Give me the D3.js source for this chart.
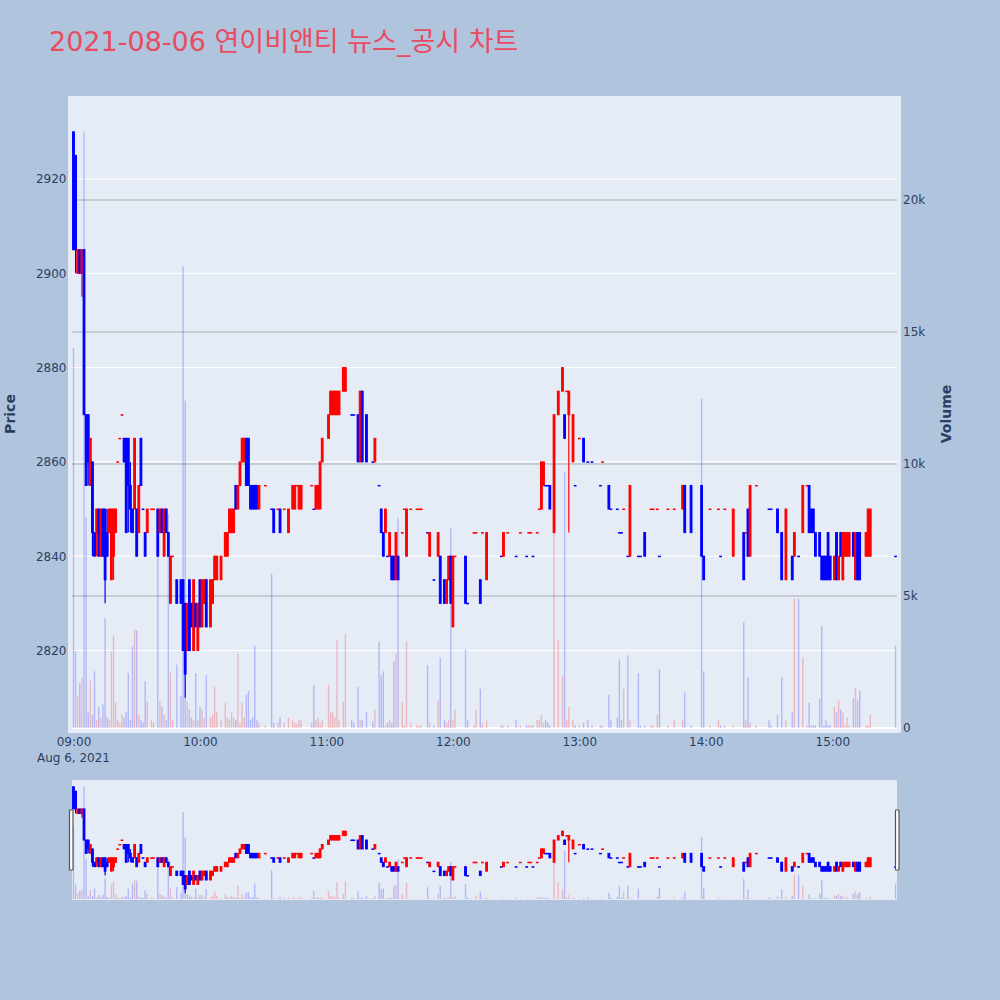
<!DOCTYPE html>
<html><head><meta charset="utf-8">
<script src="https://cdn.jsdelivr.net/npm/d3@7"></script>
<style>body{margin:0;background:#b0c4de}</style>
</head><body><svg id="c" width="1000" height="1000"></svg>
<script>
const times=["09:00","09:01","09:02","09:03","09:04","09:05","09:06","09:07","09:08","09:09",
"09:10","09:11","09:12","09:13","09:14","09:15","09:16","09:17","09:18","09:19",
"09:20","09:21","09:22","09:23","09:24","09:25","09:26","09:27","09:28","09:29",
"09:30","09:31","09:32","09:33","09:34","09:35","09:37","09:38","09:40","09:41",
"09:42","09:43","09:44","09:45","09:46","09:47","09:49","09:51","09:52","09:53",
"09:54","09:55","09:56","09:57","09:58","09:59","10:00","10:01","10:02","10:03",
"10:05","10:06","10:07","10:08","10:10","10:12","10:13","10:14","10:15","10:16",
"10:17","10:18","10:19","10:20","10:21","10:22","10:23","10:24","10:25","10:26",
"10:27","10:28","10:31","10:34","10:35","10:37","10:38","10:40","10:42","10:44",
"10:45","10:46","10:47","10:48","10:53","10:54","10:55","10:56","10:57","10:58",
"11:01","11:02","11:03","11:04","11:05","11:06","11:08","11:09","11:12","11:13",
"11:15","11:16","11:17","11:19","11:22","11:23","11:25","11:26","11:27","11:28",
"11:29","11:30","11:31","11:32","11:33","11:34","11:36","11:37","11:38","11:40",
"11:43","11:44","11:45","11:48","11:49","11:51","11:53","11:54","11:56","11:57",
"11:58","11:59","12:00","12:01","12:06","12:07","12:10","12:11","12:13","12:14",
"12:16","12:23","12:24","12:26","12:30","12:32","12:35","12:36","12:37","12:38",
"12:40","12:41","12:42","12:43","12:44","12:45","12:46","12:48","12:50","12:52",
"12:53","12:54","12:55","12:57","12:58","13:00","13:02","13:04","13:06","13:10",
"13:11","13:14","13:15","13:18","13:19","13:20","13:21","13:23","13:24","13:28",
"13:29","13:31","13:34","13:35","13:37","13:38","13:42","13:45","13:49","13:50",
"13:53","13:58","13:59","14:02","14:06","14:07","14:09","14:13","14:18","14:19",
"14:20","14:21","14:24","14:30","14:31","14:34","14:36","14:38","14:41","14:42",
"14:44","14:46","14:48","14:49","14:50","14:51","14:52","14:54","14:55","14:56",
"14:57","14:58","14:59","15:01","15:02","15:03","15:04","15:05","15:06","15:07",
"15:08","15:10","15:11","15:12","15:13","15:16","15:17","15:18","15:30"];

const open=[2930,2925,2900,2905,2900,2905,2870,2870,2855,2860,
2845,2845,2850,2840,2850,2850,2845,2845,2835,2840,
2845,2860,2865,2870,2865,2865,2865,2855,2850,2850,
2850,2845,2865,2850,2845,2845,2850,2850,2850,2845,
2850,2840,2850,2845,2830,2840,2835,2835,2835,2830,
2820,2835,2830,2820,2830,2820,2835,2825,2830,2835,
2825,2830,2835,2835,2835,2840,2840,2845,2845,2845,
2855,2850,2855,2860,2860,2865,2865,2855,2855,2855,
2855,2850,2855,2850,2850,2850,2850,2850,2845,2850,
2850,2855,2850,2850,2855,2850,2850,2850,2850,2860,
2865,2870,2870,2870,2870,2870,2875,2875,2870,2870,
2870,2860,2875,2870,2860,2860,2855,2850,2845,2845,
2840,2840,2840,2840,2835,2840,2845,2850,2840,2850,
2850,2850,2850,2845,2840,2835,2840,2840,2835,2830,
2835,2840,2825,2840,2840,2830,2845,2845,2835,2845,
2835,2840,2840,2845,2840,2845,2840,2845,2845,2840,
2845,2850,2850,2855,2855,2855,2855,2845,2870,2875,
2870,2875,2870,2860,2855,2865,2865,2860,2860,2855,
2860,2855,2850,2850,2845,2845,2850,2840,2840,2840,
2840,2845,2850,2850,2850,2840,2850,2850,2850,2855,
2855,2855,2840,2850,2850,2840,2850,2840,2845,2845,
2850,2840,2855,2850,2850,2850,2845,2835,2840,2840,
2840,2845,2855,2855,2850,2850,2845,2845,2840,2840,
2840,2845,2840,2835,2845,2835,2845,2835,2840,2840,
2840,2845,2835,2845,2845,2840,2840,2840,2840];

const high=[2930,2925,2905,2905,2905,2905,2870,2870,2865,2860,
2845,2850,2850,2850,2850,2850,2850,2850,2850,2850,
2850,2860,2865,2870,2865,2865,2865,2860,2850,2865,
2850,2855,2865,2850,2845,2850,2850,2850,2850,2850,
2850,2850,2850,2845,2840,2840,2835,2835,2835,2830,
2830,2835,2830,2835,2830,2830,2835,2835,2835,2835,
2835,2835,2840,2840,2840,2845,2845,2850,2850,2850,
2855,2855,2860,2865,2865,2865,2865,2855,2855,2855,
2855,2855,2855,2850,2850,2850,2850,2850,2850,2855,
2855,2855,2855,2855,2855,2850,2855,2855,2860,2865,
2870,2875,2875,2875,2875,2875,2880,2880,2870,2870,
2870,2875,2875,2870,2860,2865,2855,2850,2845,2850,
2840,2845,2840,2840,2845,2840,2845,2850,2850,2850,
2850,2850,2850,2845,2845,2835,2845,2840,2835,2835,
2840,2840,2840,2840,2840,2830,2845,2845,2835,2845,
2845,2840,2845,2845,2840,2845,2840,2845,2845,2840,
2845,2850,2860,2860,2855,2855,2855,2870,2875,2880,
2870,2875,2875,2870,2855,2865,2865,2860,2860,2855,
2860,2855,2850,2850,2845,2845,2850,2840,2855,2840,
2840,2845,2850,2850,2850,2840,2850,2850,2855,2855,
2855,2855,2840,2850,2850,2840,2850,2850,2845,2845,
2850,2855,2855,2850,2850,2850,2845,2850,2840,2845,
2840,2855,2855,2855,2850,2850,2845,2845,2840,2840,
2840,2845,2840,2840,2845,2840,2845,2845,2845,2845,
2845,2845,2845,2845,2845,2845,2850,2850,2840];

const low=[2905,2900,2900,2900,2895,2870,2855,2855,2855,2840,
2840,2840,2840,2840,2840,2830,2840,2845,2835,2835,
2845,2860,2865,2870,2860,2845,2845,2845,2845,2850,
2840,2845,2855,2850,2840,2845,2850,2850,2840,2845,
2845,2840,2845,2840,2830,2840,2830,2830,2820,2810,
2820,2820,2825,2820,2825,2820,2825,2825,2830,2825,
2825,2830,2835,2835,2835,2840,2840,2845,2845,2845,
2850,2850,2855,2860,2860,2855,2855,2850,2850,2850,
2850,2850,2855,2850,2845,2850,2845,2850,2845,2850,
2850,2855,2850,2850,2855,2850,2850,2850,2850,2860,
2865,2870,2870,2870,2870,2870,2875,2875,2870,2870,
2860,2860,2860,2860,2860,2860,2855,2845,2840,2845,
2840,2840,2835,2835,2835,2835,2845,2850,2840,2850,
2850,2850,2850,2845,2840,2835,2840,2830,2830,2830,
2835,2830,2825,2840,2830,2830,2845,2845,2830,2845,
2835,2840,2840,2845,2840,2845,2840,2845,2845,2840,
2845,2850,2850,2855,2855,2855,2850,2845,2870,2875,
2865,2875,2845,2860,2855,2865,2860,2860,2860,2855,
2860,2850,2850,2850,2845,2845,2850,2840,2840,2840,
2840,2840,2850,2850,2850,2840,2850,2850,2850,2845,
2845,2840,2835,2850,2850,2840,2850,2840,2835,2845,
2840,2840,2855,2850,2850,2845,2835,2835,2835,2840,
2840,2845,2855,2845,2845,2845,2840,2840,2835,2835,
2835,2835,2835,2835,2835,2835,2840,2835,2840,2840,
2840,2840,2835,2835,2835,2840,2840,2840,2840];

const close=[2905,2905,2905,2900,2905,2870,2855,2860,2865,2845,
2840,2850,2840,2850,2840,2835,2840,2850,2850,2850,
2850,2860,2865,2870,2860,2845,2855,2850,2845,2865,
2840,2855,2855,2850,2840,2850,2850,2850,2840,2850,
2845,2850,2845,2840,2840,2840,2830,2830,2820,2815,
2830,2820,2825,2835,2825,2830,2825,2835,2835,2825,
2835,2835,2840,2840,2840,2845,2845,2850,2850,2850,
2850,2855,2860,2865,2865,2855,2855,2850,2850,2850,
2850,2855,2855,2850,2845,2850,2845,2850,2850,2855,
2855,2855,2855,2855,2855,2850,2855,2855,2860,2865,
2870,2875,2875,2875,2875,2875,2880,2880,2870,2870,
2860,2875,2860,2860,2860,2865,2855,2845,2840,2850,
2840,2845,2835,2835,2845,2835,2845,2850,2850,2850,
2850,2850,2850,2845,2845,2835,2845,2830,2830,2835,
2840,2830,2840,2840,2830,2830,2845,2845,2830,2845,
2845,2840,2845,2845,2840,2845,2840,2845,2845,2840,
2845,2850,2860,2860,2855,2855,2850,2870,2875,2880,
2865,2875,2875,2870,2855,2865,2860,2860,2860,2855,
2860,2850,2850,2850,2845,2845,2850,2840,2855,2840,
2840,2840,2850,2850,2850,2840,2850,2850,2855,2845,
2845,2840,2835,2850,2850,2840,2850,2850,2835,2845,
2840,2855,2855,2850,2850,2845,2835,2850,2835,2845,
2840,2855,2855,2845,2845,2845,2840,2840,2835,2835,
2835,2835,2835,2840,2835,2840,2840,2845,2845,2845,
2845,2840,2845,2835,2835,2845,2850,2850,2840];

const volume=[14400,2900,1200,1700,1900,22600,8000,600,1800,500,
2150,300,800,400,900,4150,400,300,2900,3500,
960,300,200,500,400,600,2080,300,3100,3740,
3700,500,300,200,1780,1000,300,200,8000,1000,
800,500,300,8100,2100,300,2400,1200,17500,12400,
1000,700,400,300,2080,300,800,700,380,2000,
400,500,1560,600,300,950,400,300,600,400,
300,2820,200,960,400,1260,1410,300,400,3120,
300,200,100,5840,200,200,400,200,400,300,
200,150,300,300,200,1630,300,400,200,300,
1630,600,600,400,3340,300,1000,3560,300,200,
1560,300,300,600,250,700,3270,2000,2150,100,
200,300,200,2520,2820,7950,960,100,3270,200,
100,100,100,2380,200,100,1040,2670,300,200,
300,7570,300,700,2970,300,100,700,1485,200,
300,100,100,100,300,100,100,100,100,100,
300,300,500,200,300,200,100,7400,3340,2000,
9700,300,800,300,100,100,200,300,100,100,
100,1260,300,400,2600,300,1485,2750,300,2080,
100,100,100,100,500,2230,100,300,300,1340,
100,12470,2150,100,300,100,100,100,4010,300,
1930,200,100,300,100,500,1930,300,600,4900,
4900,2670,100,960,100,100,100,1110,3860,100,
300,100,100,800,600,1040,700,600,100,400,
100,1110,1515,1040,1400,100,100,500,3120];

const priceTicks=[2820,2840,2860,2880,2900,2920];
const volumeTicks=[0,5000,10000,15000,20000];
const volumeTickLabels=["0","5k","10k","15k","20k"];
const titleText="2021-08-06 연이비앤티 뉴스_공시 차트";
const dateLabel="Aug 6, 2021";

const UP="#ff0000", DOWN="#0000ff";
const FONT="'DejaVu Sans', Verdana, sans-serif";
const TXT="#2a3f5f";

const svg=d3.select("#c");
svg.append("rect").attr("width",1000).attr("height",1000).attr("fill","#b0c4de");

const parse=s=>{const [h,m]=s.split(":").map(Number);return new Date(2021,7,6,h,m);};
const t=times.map(parse);
const t0=new Date(2021,7,6,9,0);
const x=d3.scaleTime().domain([new Date(+t0-0.7*60000),new Date(+t0+390.7*60000)]).range([72,897]);
const yP=d3.scaleLinear().domain([2802.5,2937.6]).range([733,96]);
const yV=d3.scaleLinear().domain([-189,23940]).range([733,96]);
const yPm=d3.scaleLinear().domain([2802.5,2937.6]).range([900,780]);
const yVm=d3.scaleLinear().domain([-189,23940]).range([900,780]);

// direction (plotly rule)
const inc=[];let cPrev=null,iPrev=true;
for(let i=0;i<times.length;i++){
  let up;
  if(open[i]===close[i]){
    if(cPrev!==null&&close[i]!==cPrev) up=close[i]>cPrev; else up=iPrev;
  } else up=close[i]>open[i];
  inc.push(up);iPrev=up;cPrev=close[i];
}
const col=i=>inc[i]?UP:DOWN;
const idx=d3.range(times.length);

// title
svg.append("text").attr("x",49).attr("y",51).attr("fill","rgb(233,75,96)")
  .attr("font-family","'DejaVu Sans','Noto Sans CJK KR',sans-serif").attr("font-size",27).text(titleText);

// main plot bg
svg.append("rect").attr("x",68).attr("y",96).attr("width",833).attr("height",637).attr("fill","#e5ecf6");
const defs=svg.append("defs");
defs.append("clipPath").attr("id","cp").append("rect").attr("x",68).attr("y",96).attr("width",833).attr("height",637);
defs.append("clipPath").attr("id","cpm").append("rect").attr("x",72).attr("y",780).attr("width",825).attr("height",120);

// grids
const grid=svg.append("g");
grid.selectAll("line.pg").data(priceTicks).join("line")
  .attr("x1",72).attr("x2",897).attr("y1",d=>yP(d)).attr("y2",d=>yP(d))
  .attr("stroke","#ffffff").attr("stroke-width",1);
grid.selectAll("line.vg").data(volumeTicks.filter(d=>d>0)).join("line")
  .attr("x1",72).attr("x2",897).attr("y1",d=>yV(d)).attr("y2",d=>yV(d))
  .attr("stroke","#a8abb2").attr("stroke-width",1);
grid.append("line").attr("x1",72).attr("x2",897).attr("y1",yV(0)).attr("y2",yV(0))
  .attr("stroke","#ffffff").attr("stroke-width",2);

function drawChart(g,yS,vS,barW,bodyW,wickW){
  g.selectAll("rect.v").data(idx).join("rect").attr("class","v")
    .attr("x",i=>x(t[i])-barW/2).attr("width",barW)
    .attr("y",i=>vS(volume[i])).attr("height",i=>Math.max(0,vS(0)-vS(volume[i])))
    .attr("fill",i=>inc[i]?"rgba(255,0,0,0.22)":"rgba(0,0,255,0.22)");
  g.selectAll("line.w").data(idx).join("line").attr("class","w")
    .attr("x1",i=>x(t[i])).attr("x2",i=>x(t[i]))
    .attr("y1",i=>yS(high[i])).attr("y2",i=>yS(low[i]))
    .attr("stroke",col).attr("stroke-width",wickW);
  g.selectAll("rect.b").data(idx).join("rect").attr("class","b")
    .attr("x",i=>x(t[i])-bodyW/2).attr("width",bodyW)
    .attr("y",i=>Math.min(yS(open[i]),yS(close[i])))
    .attr("height",i=>Math.max(0.5,Math.abs(yS(open[i])-yS(close[i]))))
    .attr("fill",col).attr("stroke",col).attr("stroke-width",1);
}
drawChart(svg.append("g").attr("clip-path","url(#cp)"),yP,yV,1.4,1.8,1.2);

// axes
const ax=svg.append("g").attr("transform","translate(0,733)")
  .call(d3.axisBottom(x).ticks(d3.timeHour.every(1)).tickFormat(d3.timeFormat("%H:%M")).tickSize(0).tickPadding(4.5));
const ay=svg.append("g").attr("transform","translate(68,0)")
  .call(d3.axisLeft(yP).tickValues(priceTicks).tickFormat(d3.format("d")).tickSize(0).tickPadding(1.5));
const ay2=svg.append("g").attr("transform","translate(901,0)")
  .call(d3.axisRight(yV).tickValues(volumeTicks).tickFormat((d,i)=>volumeTickLabels[i]).tickSize(0).tickPadding(2));
[ax,ay,ay2].forEach(a=>{a.select(".domain").remove();
  a.selectAll("text").attr("font-family",FONT).attr("font-size",12).attr("fill",TXT);});
svg.append("text").attr("x",x(t0)).attr("y",762).attr("text-anchor","middle")
  .attr("font-family",FONT).attr("font-size",12).attr("fill",TXT).text(dateLabel);

svg.append("text").attr("transform","translate(15,414) rotate(-90)").attr("text-anchor","middle")
  .attr("font-family",FONT).attr("font-size",14).attr("font-weight","bold").attr("fill",TXT).text("Price");
svg.append("text").attr("transform","translate(950.5,414) rotate(-90)").attr("text-anchor","middle")
  .attr("font-family",FONT).attr("font-size",14).attr("font-weight","bold").attr("fill",TXT).text("Volume");

// range slider
svg.append("rect").attr("x",72).attr("y",780).attr("width",825).attr("height",120).attr("fill","#e5ecf6");
drawChart(svg.append("g").attr("clip-path","url(#cpm)"),yPm,yVm,1.4,1.8,1.2);
[69.5,895.5].forEach(hx=>{
  svg.append("rect").attr("x",hx).attr("y",810).attr("width",3.5).attr("height",60)
    .attr("fill","#ffffff").attr("stroke","#555").attr("stroke-width",1.2).attr("rx",0.5);
});
</script></body></html>
